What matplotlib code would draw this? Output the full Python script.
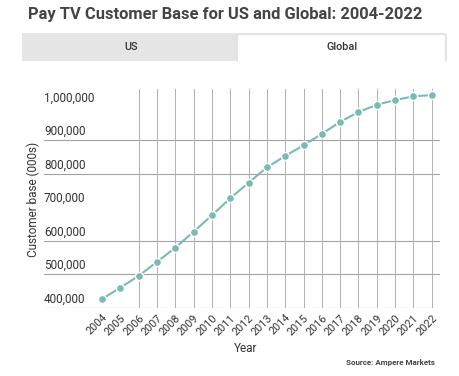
import matplotlib
matplotlib.use("Agg")
import matplotlib.pyplot as plt
from matplotlib.patches import Rectangle, FancyBboxPatch

plt.rcParams['font.family'] = ['Roboto', 'DejaVu Sans']

years = list(range(2004, 2023))
customers = [426000, 460000, 495000, 537000, 579000, 627000, 676000, 727000, 773000,
             819000, 853000, 885000, 919000, 955000, 984000, 1006000, 1020000, 1031000, 1035000]
ytick_values = [400000, 500000, 600000, 700000, 800000, 900000, 1000000]
ytick_labels = ["400,000", "500,000", "600,000", "700,000", "800,000", "900,000", "1,000,000"]
hgrid_values = [400000, 500000, 600000, 800000, 900000]
vgrid_years = years[2:]
title = "Pay TV Customer Base for US and Global: 2004-2022"
tabs = ["US", "Global"]

W, H = 459, 376
fig = plt.figure(figsize=(W / 100, H / 100), dpi=100)
fig.patch.set_facecolor("white")

def fx(px):
    return px / W

def fy(py):
    return 1 - py / H

# Title
fig.text(fx(28), fy(15), title, fontsize=11.9, fontweight="bold", color="#444444",
         ha="left", va="center")

# Tabs
fig.patches.append(Rectangle((fx(22), fy(61)), fx(237) - fx(22), fy(33) - fy(61),
                             transform=fig.transFigure, facecolor="#e5e5e5",
                             edgecolor="none", zorder=0))
fig.patches.append(FancyBboxPatch((fx(237), fy(61)), fx(446) - fx(237), fy(34) - fy(61),
                                  boxstyle="round,pad=0,rounding_size=0.005",
                                  transform=fig.transFigure, facecolor="white",
                                  edgecolor="#e3e3e3", linewidth=1.5, zorder=0))
fig.patches.append(Rectangle((fx(237.5), fy(62)), fx(445) - fx(237.5), fy(58) - fy(62),
                             transform=fig.transFigure, facecolor="white",
                             edgecolor="none", zorder=1))
fig.text(fx(131), fy(47), tabs[0], fontsize=7.8, fontweight="medium", color="#333333",
         ha="center", va="center")
fig.text(fx(342), fy(47), tabs[1], fontsize=7.8, fontweight="medium", color="#333333",
         ha="center", va="center")

# Axes
left, right, top, bottom = 44, 440, 89, 307.7
ax = fig.add_axes([fx(left), fy(bottom), fx(right) - fx(left), fy(top) - fy(bottom)])
ax.set_facecolor("none")
for s in ax.spines.values():
    s.set_visible(False)

ax.set_xlim(2000.83, 2022.45)
ax.set_ylim(400000, 1053000)

for v in hgrid_values:
    ax.axhline(v, color="#a3a3a3", linewidth=0.8, zorder=1)
for yr in vgrid_years:
    ax.axvline(yr, color="#b0b0b0", linewidth=0.7, zorder=1)

ax.plot(years, customers, color="#78bab5", linewidth=1.5, marker="o", markersize=5.8,
        markerfacecolor="#78bab5", markeredgecolor="white", markeredgewidth=1.0, zorder=3,
        clip_on=False)

ax.set_yticks([])
for v, lab in zip(ytick_values, ytick_labels):
    ax.annotate(lab, xy=(0, v), xycoords=("axes fraction", "data"), xytext=(0, 1.5),
                textcoords="offset points", ha="left", va="bottom", fontsize=8.5,
                color="#333333")

ax.set_xticks(years)
ax.set_xticklabels([str(y) for y in years], rotation=45, ha="right",
                   rotation_mode="anchor", fontsize=7.8, color="#333333")
ax.tick_params(axis="x", length=0, pad=3.5)

fig.text(fx(246), fy(349), "Year", fontsize=8.5, color="#333333", ha="center", va="center")
fig.text(fx(33), fy(199), "Customer base (000s)", fontsize=8.5, color="#333333",
         ha="center", va="center", rotation=90)
fig.text(fx(435), fy(363), "Source: Ampere Markets", fontsize=5.8, fontweight="bold",
         color="#444444", ha="right", va="center")

fig.savefig("out.png", dpi=100, facecolor="white")
